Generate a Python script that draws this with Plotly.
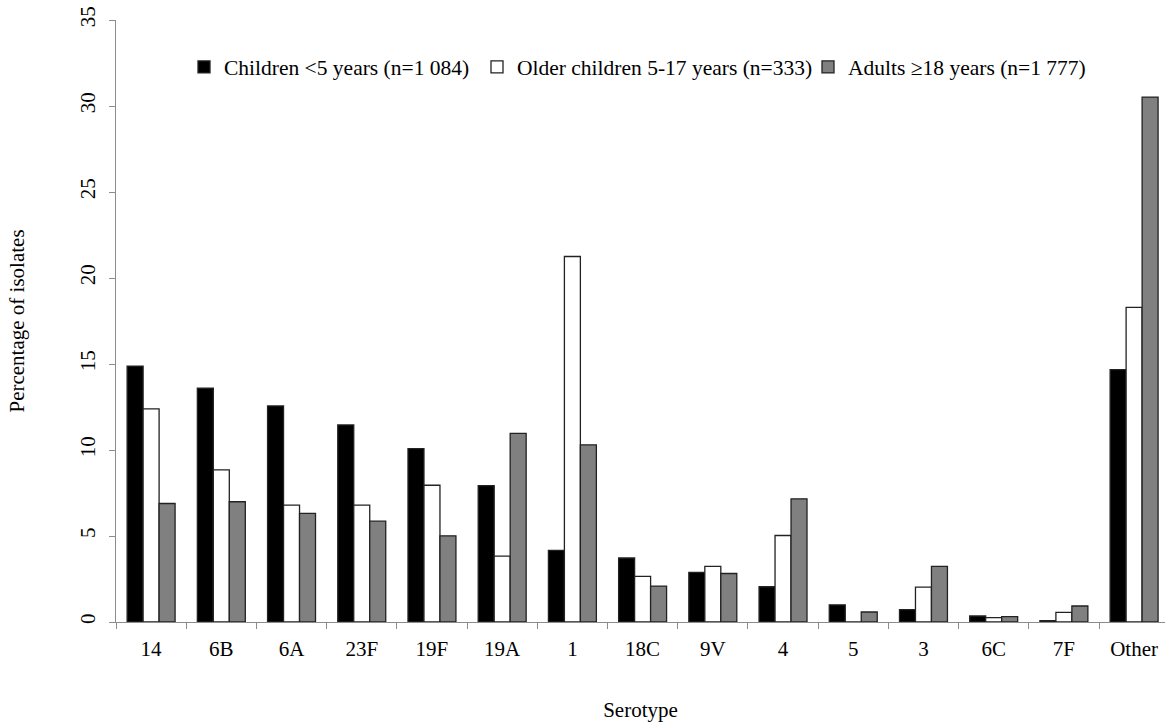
import plotly.graph_objects as go

serotypes = ["14", "6B", "6A", "23F", "19F", "19A", "1", "18C", "9V", "4", "5", "3", "6C", "7F", "Other"]
children_under5 = [14.88, 13.59, 12.56, 11.46, 10.08, 7.93, 4.16, 3.72, 2.88, 2.05, 1.0, 0.72, 0.35, 0.08, 14.67]
older_children = [12.39, 8.84, 6.79, 6.79, 7.95, 3.83, 21.25, 2.65, 3.23, 5.03, 0.0, 2.03, 0.26, 0.56, 18.29]
adults = [6.89, 6.99, 6.31, 5.86, 5.01, 10.97, 10.3, 2.09, 2.82, 7.16, 0.58, 3.23, 0.31, 0.93, 30.52]

series_names = ["Children <5 years (n=1 084)", "Older children 5-17 years (n=333)", "Adults \u226518 years (n=1 777)"]
series_colors = ["#000000", "#ffffff", "#808080"]

FONT = "Liberation Serif, Times New Roman, serif"
W, H = 1165, 722
L, R, T, B = 116, 0, 19.5, 99.7
plot_w = W - L - R
plot_h = H - T - B

def fx(px):
    return (px - L) / plot_w

def fy(py):
    return 1 - (py - T) / plot_h

fig = go.Figure()
legend_ids = ["legend", "legend2", "legend3"]
for name, vals, col, lg in zip(series_names, [children_under5, older_children, adults], series_colors, legend_ids):
    fig.add_trace(go.Bar(
        x=serotypes, y=vals, name=name, legend=lg, showlegend=True,
        marker=dict(color=col, line=dict(color="#222222", width=1.3)),
    ))

legend_px = [184, 477, 808]
legend_common = dict(orientation="h", yanchor="middle", y=fy(66.5), xanchor="left",
                     font=dict(family=FONT, size=21.5, color="#000000"),
                     bgcolor="rgba(0,0,0,0)", borderwidth=0)

fig.update_layout(
    width=W, height=H, showlegend=True,
    margin=dict(l=L, r=R, t=T, b=B, pad=0),
    paper_bgcolor="white", plot_bgcolor="white",
    barmode="group", bargap=0.317, bargroupgap=0,
    font=dict(family=FONT, size=21, color="#000000"),
    legend=dict(x=fx(legend_px[0]), **legend_common),
    legend2=dict(x=fx(legend_px[1]), **legend_common),
    legend3=dict(x=fx(legend_px[2]), **legend_common),
    xaxis=dict(
        type="category", range=[-0.5, 14.44], automargin=False,
        showline=True, linecolor="#8c8c8c", linewidth=1.2,
        ticks="outside", tickson="boundaries", ticklen=6, tickcolor="#8c8c8c", tickwidth=1.2,
        ticklabelstandoff=8, ticklabeloverflow="allow",
        tickfont=dict(family=FONT, size=21, color="#000000"),
        showgrid=False, zeroline=False,
        title=dict(text="Serotype", font=dict(family=FONT, size=21), standoff=48),
    ),
    yaxis=dict(
        range=[0, 35], tickvals=[0, 5, 10, 15, 20, 25, 30, 35], automargin=False,
        showline=True, linecolor="#8c8c8c", linewidth=1.2,
        ticks="outside", ticklen=6, tickcolor="#8c8c8c", tickwidth=1.2,
        tickangle=-90, ticklabelstandoff=6, ticklabeloverflow="allow",
        tickfont=dict(family=FONT, size=21, color="#000000"),
        showgrid=False, zeroline=False,
        title=dict(text="Percentage of isolates", font=dict(family=FONT, size=21), standoff=45),
    ),
)

# remove the browser's default 8px body margin so the figure fills the window exactly
fig.write_html("out.html", config={"displayModeBar": False},
               post_script="document.body.style.margin='0';document.body.style.overflow='hidden';")
